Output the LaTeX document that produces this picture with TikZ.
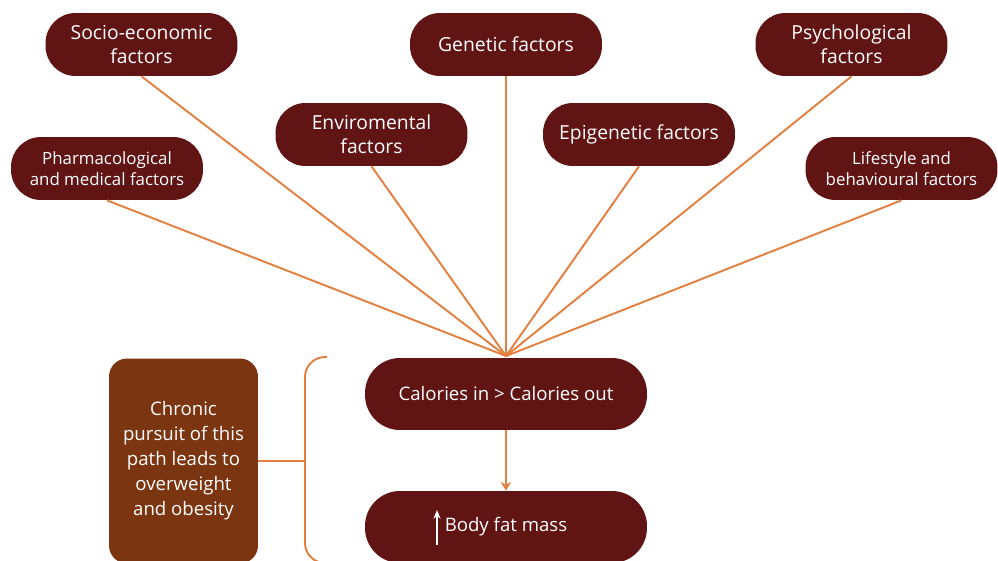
\documentclass[tikz,border=0pt]{standalone}
\usepackage{fontspec}
\setmainfont{Open Sans}
\usetikzlibrary{arrows.meta}
\definecolor{factorred}{HTML}{611414}
\definecolor{pathbrown}{HTML}{7C3511}
\definecolor{linkorange}{HTML}{E38040}

\begin{document}
\begin{tikzpicture}[x=0.02cm,y=-0.02cm,
		factor/.style={fill=factorred,text=white,rounded corners=0.6cm,minimum width=3.84cm,minimum height=1.26cm,align=center,inner sep=0pt},
		big/.style={font=\fontsize{11}{13.6}\selectfont},
		mid/.style={font=\fontsize{10.6}{14.2}\selectfont},
		small/.style={font=\fontsize{9.6}{11.9}\selectfont},
		link/.style={draw=linkorange,line width=1.1pt}]
		\clip (0,0) rectangle (998,561);% Fixes the page size
		%Notation: {name/x/y/font/text}
		\foreach \name/\x/\y/\fs/\txt in {
				socio/141.5/44.5/big/{Socio-economic\\factors},
				genetic/506/44.5/big/{Genetic factors},
				psycho/851.5/44.5/big/{Psychological\\factors},
				enviro/371.5/134.5/big/{Enviromental\\factors},
				epigen/639/134.5/big/{Epigenetic factors},
				pharma/107/168.5/small/{Pharmacological\\and medical factors},
				lifestyle/901.5/168.5/small/{Lifestyle and\\behavioural factors}}{
			\node[factor,\fs] (\name) at (\x,\y) {\txt};% Draw the factor box
		}
		
		% The energy balance path
		\node[factor,mid,minimum width=5.64cm,minimum height=1.44cm,rounded corners=0.7cm] (calories) at (506,394) {Calories in > Calories out};
		\node[factor,mid,minimum width=5.64cm,minimum height=1.44cm,rounded corners=0.7cm] (fat) at (506,527) {Body fat mass};
		\draw[white,line width=1pt,-{Stealth[length=5pt,width=4pt]}] (fat.center) ++(-69,18) -- ++(0,-35);
		\coordinate (hub) at (506,356);
		
		% Every factor meets in the hub
		\foreach \name in {socio,genetic,psycho,enviro,epigen,pharma,lifestyle}{
			\draw[link] (\name.south) -- (hub);
		}
		\draw[link,-{Stealth[length=5pt,width=6pt]}] (calories.south) -- (fat.north);
		
		% Side note with the brace
		\node[fill=pathbrown,text=white,rounded corners=0.36cm,minimum width=2.98cm,minimum height=4.1cm,align=center,inner sep=0pt,mid] (chronic) at (183.5,461) {Chronic\\pursuit of this\\path leads to\\overweight\\and obesity};
		\coordinate (brace) at (305,461);
		\draw[link,rounded corners=0.4cm] (327,357) -- (305,357) -- (305,563) -- (327,563);
		\draw[link] (chronic.east) -- (brace);
	\end{tikzpicture}
\end{document}
